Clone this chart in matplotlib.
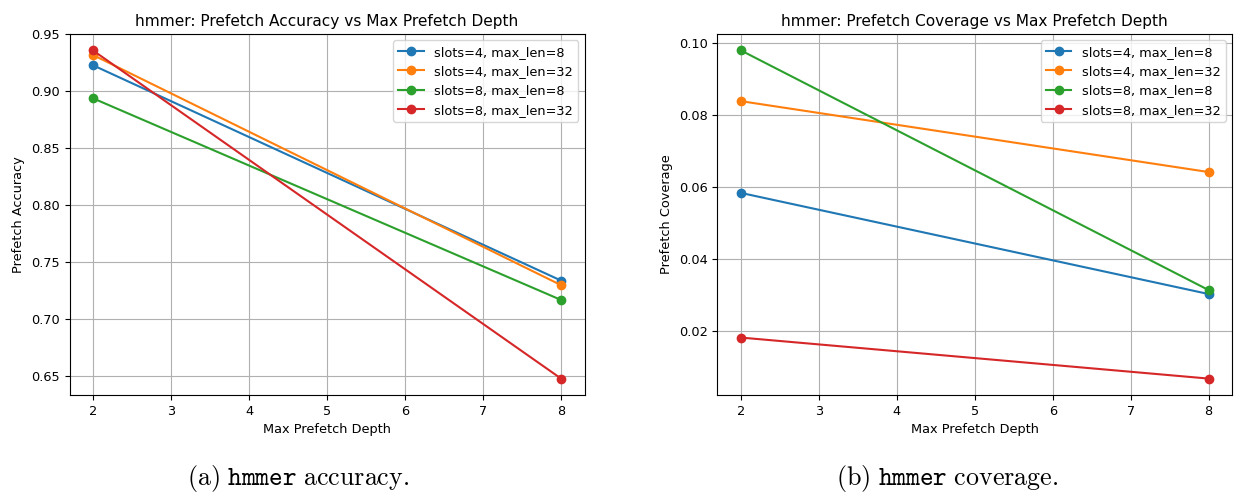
import matplotlib
matplotlib.use("Agg")
import matplotlib.pyplot as plt

depths = [2, 8]
series_labels = ["slots=4, max_len=8", "slots=4, max_len=32",
                 "slots=8, max_len=8", "slots=8, max_len=32"]
accuracy = {
    "slots=4, max_len=8": [0.923, 0.734],
    "slots=4, max_len=32": [0.932, 0.730],
    "slots=8, max_len=8": [0.894, 0.717],
    "slots=8, max_len=32": [0.936, 0.648],
}
coverage = {
    "slots=4, max_len=8": [0.0584, 0.0303],
    "slots=4, max_len=32": [0.0839, 0.0642],
    "slots=8, max_len=8": [0.0980, 0.0314],
    "slots=8, max_len=32": [0.0182, 0.0068],
}
colors = ["#1f77b4", "#ff7f0e", "#2ca02c", "#d62728"]

plt.rcParams["font.size"] = 9.25
plt.rcParams["axes.titlesize"] = 11.1
plt.rcParams["axes.labelsize"] = 9.25
plt.rcParams["legend.fontsize"] = 9.25
plt.rcParams["xtick.labelsize"] = 9.25
plt.rcParams["ytick.labelsize"] = 9.25
plt.rcParams["mathtext.fontset"] = "cm"

fig = plt.figure(figsize=(12.36, 4.93), dpi=100)
W, H = 1236, 493
ax1 = fig.add_axes([69.5 / W, 1 - 395 / H, 515 / W, 361 / H])
ax2 = fig.add_axes([717.5 / W, 1 - 395 / H, 514.5 / W, 361 / H])

for ax, data, title, ylabel in [
    (ax1, accuracy, "hmmer: Prefetch Accuracy vs Max Prefetch Depth", "Prefetch Accuracy"),
    (ax2, coverage, "hmmer: Prefetch Coverage vs Max Prefetch Depth", "Prefetch Coverage"),
]:
    for lab, c in zip(series_labels, colors):
        ax.plot(depths, data[lab], marker="o", color=c, label=lab)
    ax.set_title(title)
    ax.set_xlabel("Max Prefetch Depth")
    ax.set_ylabel(ylabel)
    ax.grid(True)
    ax.legend(loc="upper right")

ax1.set_yticks([0.65, 0.70, 0.75, 0.80, 0.85, 0.90, 0.95])
ax2.set_yticks([0.02, 0.04, 0.06, 0.08, 0.10])

fig.text(298 / W, 1 - 478 / H, r"$\mathrm{(a)\ }\mathtt{hmmer}\mathrm{\ accuracy.}$",
         ha="center", va="center", fontsize=18.7)
fig.text(947 / W, 1 - 478 / H, r"$\mathrm{(b)\ }\mathtt{hmmer}\mathrm{\ coverage.}$",
         ha="center", va="center", fontsize=18.7)

fig.savefig("out.png", dpi=100)
